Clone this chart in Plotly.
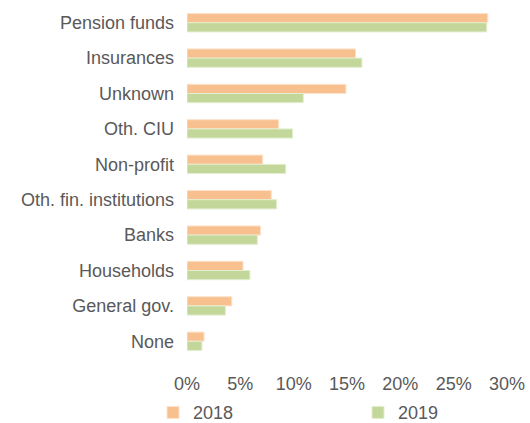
import plotly.graph_objects as go

# investor categories, top to bottom as shown
categories = ['Pension funds', 'Insurances', 'Unknown', 'Oth. CIU', 'Non-profit',
              'Oth. fin. institutions', 'Banks', 'Households', 'General gov.', 'None']
share_2018 = [28.2, 15.8, 14.9, 8.6, 7.1, 7.9, 6.9, 5.25, 4.2, 1.6]
share_2019 = [28.1, 16.4, 10.9, 9.9, 9.25, 8.4, 6.6, 5.9, 3.6, 1.4]
x_ticks = [0, 5, 10, 15, 20, 25, 30]
x_tick_labels = ['0%', '5%', '10%', '15%', '20%', '25%', '30%']

grey = '#595959'

fig = go.Figure()
fig.add_trace(go.Bar(y=categories, x=share_2018, name='2018', orientation='h',
                     marker=dict(color='#F9C08F', line=dict(color='#FCE3CC', width=1))))
fig.add_trace(go.Bar(y=categories, x=share_2019, name='2019', orientation='h',
                     legend='legend2',
                     marker=dict(color='#C4D79B', line=dict(color='#E3EDCF', width=1))))

leg = dict(orientation='h', xref='container', yref='container', y=0.068,
           xanchor='left', yanchor='top', font=dict(size=18, color=grey))

fig.update_layout(
    width=530, height=423, showlegend=True,
    margin=dict(l=187, r=23, t=5, b=64, autoexpand=False),
    barmode='group', bargap=0.48, bargroupgap=0,
    plot_bgcolor='white', paper_bgcolor='white',
    font=dict(family='Liberation Sans, Arial, sans-serif', size=18, color=grey),
    legend=dict(leg, x=153 / 530),
    legend2=dict(leg, x=358 / 530),
)
fig.update_yaxes(autorange='reversed', showgrid=False, showline=False, ticks='',
                 ticklabelstandoff=12, automargin=False)
fig.update_xaxes(range=[0, 30], tickvals=x_ticks, ticktext=x_tick_labels,
                 showgrid=False, zeroline=False, showline=False, ticks='',
                 ticklabelstandoff=12, automargin=False)

# drop the default page margin so the chart sits at the window's corner
fig.write_html("out.html", config={'displayModeBar': False},
               post_script="document.body.style.margin='0';")
